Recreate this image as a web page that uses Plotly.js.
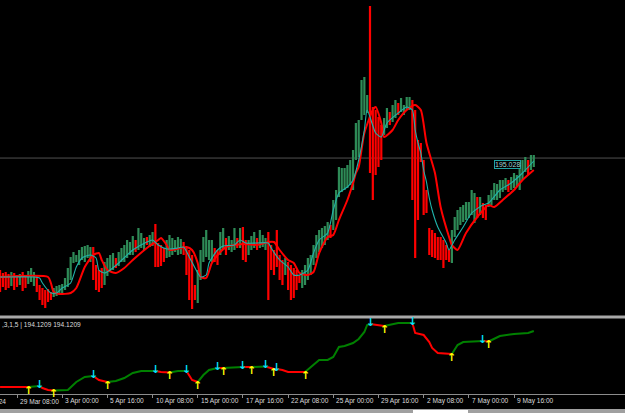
<!DOCTYPE html>
<html><head><meta charset="utf-8">
<script src="https://cdn.plot.ly/plotly-3.0.1.min.js"></script>
<style>html,body{margin:0;padding:0;background:#000;}#c{width:625px;height:413px;}</style>
</head><body><div id="c"></div>
<script>
// ---- price bars (H4), index 0 = 28 Mar 08:00 ----
const barOpen = [190.47,190.35,190.39,190.31,189.99,190.35,190.27,190.03,190.39,190.23,190.07,190.15,189.99,190.23,189.87,189.75,189.67,189.71,189.61,189.53,189.57,189.69,189.65,189.83,189.95,190.23,190.91,190.93,190.83,191.03,190.95,191.11,190.95,191.39,190.67,190.47,190.55,190.03,190.39,190.55,190.63,190.95,190.79,190.95,190.95,191.11,191.23,191.23,191.67,191.43,191.51,191.43,191.79,191.55,191.59,192.31,191.55,191.47,191.35,191.11,191.15,191.23,191.35,191.23,191.27,191.59,191.35,191.27,191.07,189.87,189.31,190.23,190.95,191.15,191.03,190.95,191.35,191.27,191.23,191.43,191.75,191.43,191.35,191.43,191.75,191.51,192.19,191.67,191.23,191.43,191.51,191.75,191.51,191.55,191.43,191.99,191.47,191.27,192.07,191.07,190.87,190.43,190.79,190.67,190.55,190.47,190.27,189.91,190.03,190.23,190.43,190.83,191.11,191.35,191.51,191.63,191.83,192.27,192.23,192.63,193.55,193.75,193.83,193.91,194.03,193.83,195.03,195.15,196.63,196.83,196.91,197.47,196.99,196.87,196.59,196.27,196.03,196.31,196.79,196.55,196.71,197.15,196.95,196.83,197.03,197.03,197.27,196.87,195.67,195.55,194.87,193.67,192.15,192.07,191.95,191.79,191.79,191.67,191.47,191.27,190.91,191.95,192.23,192.43,192.55,192.63,192.71,192.83,192.51,193.39,192.83,193.15,193.07,193.15,193.23,193.43,193.43,193.51,193.75,193.83,194.07,193.83,193.91,193.99,193.83,194.23,194.55,194.87,194.63,194.75];
const barHigh = [190.55,190.43,190.47,190.39,190.47,190.43,190.35,190.39,190.47,190.31,190.51,190.63,190.47,190.31,189.95,189.83,189.75,189.79,189.67,189.83,189.91,189.95,189.99,190.23,190.63,191.07,191.27,191.15,191.35,191.47,191.51,191.55,191.47,191.47,190.75,190.55,190.63,190.87,191.03,191.15,191.23,191.03,191.27,191.43,191.55,191.75,191.67,191.91,191.75,192.23,192.03,191.83,191.87,191.95,192.07,192.39,191.63,191.55,191.43,191.75,191.95,191.83,191.75,191.87,191.79,191.67,191.43,191.35,191.15,189.95,190.55,191.35,191.87,192.15,191.75,191.75,191.43,191.35,192.07,192.23,191.83,191.91,191.75,192.23,191.83,192.23,192.27,191.75,191.75,191.91,192.07,191.83,192.15,191.95,191.83,192.07,191.55,191.35,192.15,191.15,190.95,191.03,190.87,190.75,190.63,190.55,190.35,190.55,190.75,191.03,191.15,191.55,191.95,192.15,192.23,192.31,192.47,192.35,193.35,193.75,194.67,194.63,194.63,194.75,194.95,195.35,196.43,196.55,198.15,198.27,197.55,201.11,197.07,196.95,196.67,196.35,196.63,197.03,196.87,197.15,197.35,197.23,197.43,197.15,197.47,197.47,197.35,196.95,195.75,195.63,194.95,193.75,192.23,192.15,192.03,191.87,191.87,191.75,191.55,191.35,192.15,192.67,192.95,193.07,193.15,193.27,193.27,193.75,193.63,193.47,193.47,193.23,193.15,193.55,193.75,194.03,193.99,194.15,194.15,194.23,194.15,194.27,194.43,194.35,194.83,194.95,195.07,194.95,195.15,195.15];
const barLow = [189.67,189.87,189.75,189.83,189.91,189.75,189.87,189.95,189.71,189.83,189.99,190.07,189.91,189.67,189.35,189.15,189.03,189.27,189.35,189.47,189.51,189.63,189.59,189.75,189.87,190.15,190.83,190.87,190.75,190.95,190.87,191.03,190.87,190.15,189.75,189.67,189.83,189.95,190.31,190.47,190.55,190.63,190.71,190.87,190.87,191.03,191.15,191.15,191.27,191.35,191.43,191.35,191.55,191.47,191.51,190.67,190.67,190.71,190.87,191.03,191.07,191.15,191.27,191.15,191.19,191.15,190.35,189.35,188.99,189.35,189.23,190.15,190.87,191.07,190.95,190.87,190.87,190.75,191.15,191.35,191.15,191.35,191.27,191.35,191.43,191.43,190.95,190.87,191.15,191.35,191.43,191.35,191.43,191.47,191.35,189.35,190.55,190.35,190.67,190.15,189.95,190.35,189.75,189.35,189.43,189.75,190.03,189.83,189.95,190.15,190.35,190.75,191.03,191.27,191.43,191.55,191.75,191.83,192.15,192.55,193.47,193.67,193.75,193.83,193.95,193.75,194.95,195.07,196.55,196.75,196.83,194.43,193.35,194.35,194.67,194.95,195.95,196.23,196.35,196.47,196.63,196.75,196.87,196.75,196.95,196.95,193.35,191.03,192.55,194.87,192.75,192.83,191.15,191.07,191.03,190.95,190.95,190.63,190.95,190.87,190.83,191.87,192.15,192.35,192.47,192.55,192.63,192.75,192.43,192.63,192.75,192.63,192.55,193.07,193.15,193.35,193.35,193.43,193.67,193.75,193.67,193.75,193.83,193.91,193.75,194.15,194.47,194.35,194.55,194.67];
const barClose = [189.75,189.95,189.83,189.91,190.39,189.83,189.95,190.31,189.79,189.91,190.43,190.55,190.39,189.75,189.43,189.23,189.11,189.35,189.41,189.77,189.85,189.89,189.93,190.15,190.55,190.99,191.19,191.09,191.27,191.39,191.43,191.47,191.39,190.23,189.83,189.75,189.91,190.79,190.95,191.07,191.15,190.71,191.19,191.35,191.47,191.67,191.59,191.83,191.35,192.15,191.95,191.75,191.63,191.87,191.99,190.75,190.75,190.79,190.95,191.67,191.87,191.75,191.67,191.79,191.71,191.23,190.43,189.43,189.07,189.43,190.47,191.27,191.79,192.07,191.67,191.67,190.95,190.83,191.99,192.15,191.23,191.83,191.67,192.15,191.51,192.15,191.03,190.95,191.67,191.83,191.99,191.43,192.07,191.87,191.75,189.43,190.63,190.43,190.75,190.23,190.03,190.95,189.83,189.43,189.51,189.83,190.11,190.47,190.67,190.95,191.07,191.47,191.87,192.07,192.15,192.23,192.39,191.91,193.27,193.67,194.59,194.55,194.55,194.67,194.87,195.27,196.35,196.47,198.07,198.19,197.47,194.51,193.43,194.43,194.75,195.03,196.55,196.95,196.43,197.07,197.27,196.83,197.35,197.07,197.39,197.39,193.43,191.11,192.63,194.95,192.83,192.91,191.23,191.15,191.11,191.03,191.03,190.71,191.03,190.95,192.07,192.59,192.87,192.99,193.07,193.19,193.19,193.67,193.55,192.71,193.39,192.71,192.63,193.47,193.67,193.95,193.91,194.07,194.07,194.15,193.75,194.19,194.35,194.27,194.75,194.87,194.99,194.43,195.07,195.03];

// ---- moving averages (sampled at bar indices) ----
const fastMaIdx = [0,12,14,15,18,20,22,25,27,29,32,34,35,37,39,42,47,52,54,56,59,63,65,67,70,71,73,74,77,79,83,85,87,91,95,96,99,102,104,106,109,111,113,116,118,120,123,125,127,129,130,133,135,137,141,144,146,147,148,149,150,151,152,153,155,158,159,161,164,167,171,173,177,181,185,189];
const fastMaVal = [190.27,190.27,190.23,190.03,189.63,189.63,189.83,190.03,190.67,191.03,191.15,191.03,190.55,190.43,190.55,190.83,191.35,191.67,191.75,191.55,191.39,191.43,191.47,191.07,190.43,190.27,190.35,190.83,191.35,191.51,191.55,191.75,191.63,191.63,191.63,191.43,190.95,190.67,190.35,190.35,190.55,191.23,191.75,192.03,192.95,193.63,193.87,194.15,194.95,196.15,196.95,196.03,195.87,196.43,196.83,197.07,196.95,196.15,195.63,195.23,194.55,194.07,193.43,192.95,192.27,191.63,191.35,191.75,192.27,192.83,193.15,193.23,193.75,194.03,194.43,194.91];
const slowMaIdx = [0,17,18,19,21,25,27,30,33,35,36,38,41,44,47,52,56,57,59,60,64,66,68,70,71,73,75,78,80,83,87,91,95,97,99,102,104,106,109,111,113,116,118,120,123,125,126,127,129,132,133,135,136,139,141,144,147,149,151,154,156,159,160,162,165,169,173,175,178,182,185,189];
const slowMaVal = [190.27,190.27,190.03,189.67,189.59,189.63,189.83,190.67,191.15,191.23,190.95,190.55,190.43,190.63,190.95,191.43,191.75,191.83,191.55,191.35,191.43,191.47,191.35,190.83,190.27,190.23,190.83,191.27,191.47,191.55,191.59,191.55,191.67,191.67,191.35,190.95,190.83,190.43,190.35,190.47,191.23,191.87,191.95,192.55,193.35,194.03,194.43,194.67,196.03,196.95,197.07,196.43,195.87,196.15,196.55,196.95,197.15,196.95,195.63,194.43,193.07,191.87,191.55,191.35,192.03,192.67,193.15,193.07,193.35,193.75,194.15,194.55];
const bidPrice = 195.028;

// ---- lower indicator ----
const subIdx = [0,10,14,15,17,19,24,27,30,33,35,38,41,44,47,50,55,57,60,63,66,68,70,72,74,77,79,86,89,94,97,98,100,102,104,108,110,113,116,118,119,120,122,125,127,129,130,131,136,141,146,147,150,152,153,155,160,162,164,166,171,173,175,177,182,187,189];
const subVal = [190.76,190.76,190.82,190.70,190.58,190.55,190.58,191.06,191.36,191.42,191.18,191.06,191.12,191.30,191.60,191.72,191.72,191.66,191.63,191.72,191.72,191.18,191.06,191.48,191.78,191.90,191.90,191.96,191.96,191.99,191.84,191.84,191.78,191.66,191.66,191.66,191.96,192.38,192.38,192.56,192.86,193.16,193.22,193.40,193.64,194.06,194.48,194.54,194.42,194.60,194.60,194.00,193.88,193.46,193.10,192.80,192.74,193.28,193.46,193.49,193.52,193.49,193.64,193.82,193.94,194.00,194.12];
const subTrend = ['d','u','d','d','d','u','u','u','u','d','d','u','u','u','u','u','d','d','u','u','d','d','u','u','u','d','u','d','u','d','u','d','d','d','d','u','u','u','u','u','u','u','u','u','u','u','u','d','u','u','d','d','d','d','d','d','u','u','u','u','d','u','u','u','u','u','u'];
const buyArrowIdx = [10,19,38,60,70,79,89,97,108,136,160,173];
const sellArrowIdx = [14,33,55,66,77,86,94,98,131,146,171];
const subHeader = ',3,1,5 | 194.1209 194.1209';

// ---- time axis ----
const tickIdx = [6,22,38,54,70,86,102,118,134,150,166,182];
const tickText = ['29 Mar 08:00','3 Apr 00:00','5 Apr 16:00','10 Apr 08:00','15 Apr 00:00','17 Apr 16:00','22 Apr 08:00','25 Apr 00:00','29 Apr 16:00','2 May 08:00','7 May 00:00','9 May 16:00'];
const firstLabel = '27 Mar 2024';

const H = 413;
const py = p => (H - p) / H;   // pixel row -> paper fraction
const barIdx = barClose.map((_, i) => i);

const traces = [];
traces.push({type:'ohlc', x:barIdx, open:barOpen, high:barHigh, low:barLow, close:barClose,
  xaxis:'x', yaxis:'y', tickwidth:0.2, hoverinfo:'skip',
  increasing:{line:{color:'#2e8b57', width:2.2}}, decreasing:{line:{color:'#ff0000', width:2.2}}});
traces.push({type:'scatter', mode:'lines', x:slowMaIdx, y:slowMaVal, xaxis:'x', yaxis:'y',
  line:{color:'#ff0000', width:2, shape:'spline', smoothing:0.6}, hoverinfo:'skip'});
traces.push({type:'scatter', mode:'lines', x:fastMaIdx, y:fastMaVal, xaxis:'x', yaxis:'y',
  line:{color:'#20b2aa', width:1.1, shape:'spline', smoothing:0.6}, hoverinfo:'skip'});

// indicator: split into coloured runs
const runs = {u:{x:[],y:[]}, d:{x:[],y:[]}};
let cur = null;
for (let k = 0; k < subIdx.length - 1; k++) {
  const col = subTrend[k], tr = runs[col];
  if (cur !== col) {
    if (tr.x.length) { tr.x.push(null); tr.y.push(null); }
    tr.x.push(subIdx[k]); tr.y.push(subVal[k]); cur = col;
  }
  tr.x.push(subIdx[k+1]); tr.y.push(subVal[k+1]);
}
traces.push({type:'scatter', mode:'lines', x:runs.u.x, y:runs.u.y, xaxis:'x', yaxis:'y2',
  line:{color:'#008000', width:2}, connectgaps:false, hoverinfo:'skip'});
traces.push({type:'scatter', mode:'lines', x:runs.d.x, y:runs.d.y, xaxis:'x', yaxis:'y2',
  line:{color:'#ff0000', width:2}, connectgaps:false, hoverinfo:'skip'});

const valAt = i => subVal[subIdx.indexOf(i)];
const annotations = [];
buyArrowIdx.forEach(i => annotations.push({x:i, y:valAt(i), xref:'x', yref:'y2', text:'<b>↑</b>',
  showarrow:false, yshift:-3, font:{family:'DejaVu Sans', size:11, color:'#ffff00'}}));
sellArrowIdx.forEach(i => annotations.push({x:i, y:valAt(i), xref:'x', yref:'y2', text:'<b>↓</b>',
  showarrow:false, yshift:2, font:{family:'DejaVu Sans', size:11, color:'#00e0ff'}}));
tickIdx.forEach((i, k) => annotations.push({x:i, y:py(401), xref:'x', yref:'paper', text:tickText[k],
  showarrow:false, xanchor:'left', yanchor:'middle', xshift:1,
  font:{family:'Liberation Sans', size:6.6, color:'#dcdcdc'}}));
annotations.push({x:8/625, y:py(401), xref:'paper', yref:'paper', text:firstLabel, showarrow:false,
  xanchor:'right', yanchor:'middle', font:{family:'Liberation Sans', size:6.6, color:'#dcdcdc'}});
annotations.push({x:0, y:py(325), xref:'paper', yref:'paper', text:subHeader, showarrow:false,
  xanchor:'left', yanchor:'middle', font:{family:'Liberation Sans', size:6.6, color:'#dcdcdc'}});
annotations.push({x:494/625, y:py(165), xref:'paper', yref:'paper', text:bidPrice.toFixed(3), showarrow:false,
  xanchor:'left', yanchor:'middle', bordercolor:'#1fa3a3', borderwidth:1, borderpad:0, bgcolor:'#000',
  font:{family:'Liberation Sans', size:7, color:'#9fd4d4'}});

const shapes = [
  {type:'line', xref:'paper', x0:0, x1:1, yref:'y', y0:bidPrice, y1:bidPrice, line:{color:'#505050', width:1}, layer:'below'},
  {type:'rect', xref:'paper', x0:0, x1:1, yref:'paper', y0:py(318.5), y1:py(315.5), fillcolor:'#a8a8a8', line:{width:0}},
  {type:'rect', xref:'paper', x0:0, x1:1, yref:'paper', y0:0, y1:py(409), fillcolor:'#a0a0a0', line:{width:0}},
  {type:'rect', xref:'paper', x0:413/625, x1:468/625, yref:'paper', y0:0, y1:py(410), fillcolor:'#ffffff', line:{width:0}}
];

const layout = {
  width:625, height:413, margin:{l:0, r:0, t:0, b:0}, paper_bgcolor:'#000', plot_bgcolor:'#000',
  showlegend:false, dragmode:false,
  xaxis:{type:'linear', range:[-0.02, 221.3], anchor:'y2', showgrid:false, zeroline:false,
    showline:true, linecolor:'#8c8c8c', linewidth:1, ticks:'outside', ticklen:3, tickcolor:'#8c8c8c',
    tickmode:'array', tickvals:tickIdx, showticklabels:false, rangeslider:{visible:false}, fixedrange:true},
  yaxis:{domain:[py(316), 1], range:[188.71, 201.35], visible:false, fixedrange:true},
  yaxis2:{domain:[py(394), py(318)], range:[190.34, 194.90], visible:false, fixedrange:true},
  shapes:shapes, annotations:annotations
};
Plotly.newPlot('c', traces, layout, {staticPlot:true, displayModeBar:false});
</script></body></html>
